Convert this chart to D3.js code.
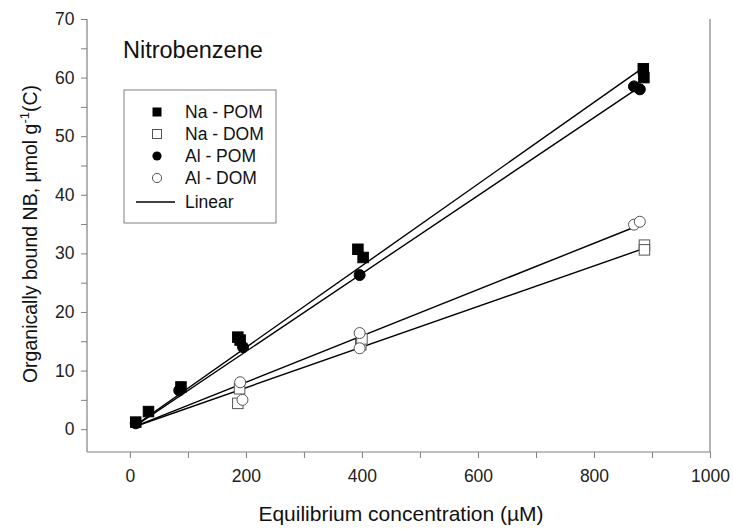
<!DOCTYPE html>
<html><head><meta charset="utf-8">
<script src="https://cdn.jsdelivr.net/npm/d3@7"></script>
<style>body{margin:0;background:#fff}</style>
</head><body>
<svg id="c" width="733" height="529"></svg>
<script>
const title = "Nitrobenzene";
const xTicks = [0,200,400,600,800,1000];
const yTicks = [0,10,20,30,40,50,60,70];
const naPOM = [[10,1.2],[32,3.0],[88,7.2],[186,15.7],[190,15.2],[393,30.7],[402,29.3],[885,61.5],[886,60.0]];
const naDOM = [[186,4.4],[189,6.9],[398,14.4],[400,15.4],[887,31.4],[887,30.6]];
const alPOM = [[10,1.0],[85,6.6],[195,14.0],[396,26.3],[869,58.5],[879,58.0]];
const alDOM = [[190,8.0],[194,5.0],[396,16.4],[396,13.8],[869,34.9],[879,35.4]];
const naPOMFit = [[10,0.7],[885,61.7]];
const alPOMFit = [[10,0.6],[877,58.3]];
const naDOMFit = [[10,0.5],[885,30.8]];
const alDOMFit = [[10,0.5],[878,34.8]];
const legendLabels = ["Na - POM","Na - DOM","Al - POM","Al - DOM","Linear"];

const svg = d3.select("#c");
const font = "Liberation Sans, Arial, sans-serif";
const x = d3.scaleLinear().domain([-74,1000]).range([87,710]);
const y = d3.scaleLinear().domain([-3.9,70]).range([452,19]);
const axisCol = "#808080";

// axes
const xa = svg.append("g").attr("transform","translate(0,452)")
  .call(d3.axisBottom(x).tickValues(d3.range(0,1001,100)).tickSize(6).tickFormat(d=>xTicks.includes(d)?d:""));
const ya = svg.append("g").attr("transform","translate(87,0)")
  .call(d3.axisLeft(y).tickValues(d3.range(0,71,5)).tickSize(6).tickFormat(d=>yTicks.includes(d)?d:""));
[xa,ya].forEach(g=>{
  g.select(".domain").attr("stroke",axisCol).attr("stroke-width",1.2);
  g.selectAll(".tick line").attr("stroke",axisCol);
  g.selectAll("text").attr("font-family",font).attr("font-size",17.5).attr("fill","#222");
});
xa.selectAll(".domain").attr("d",`M${x.range()[0]},0H${x.range()[1]}`);
ya.selectAll(".domain").attr("d",`M0,${y.range()[0]}V${y.range()[1]}`);
xa.selectAll("text").attr("dy","1.2em");
ya.selectAll("text").attr("dx","-0.2em");
svg.append("line").attr("x1",x(1000)).attr("x2",x(1000)).attr("y1",y.range()[0]).attr("y2",y.range()[1])
  .attr("stroke",axisCol).attr("stroke-width",1.2);

// titles
svg.append("text").attr("x",401).attr("y",521).attr("text-anchor","middle")
  .attr("font-family",font).attr("font-size",21).attr("fill","#111").text("Equilibrium concentration (µM)");
const yt = svg.append("text").attr("transform","translate(37,234) rotate(-90)").attr("text-anchor","middle")
  .attr("font-family",font).attr("font-size",19.5).attr("fill","#111");
yt.append("tspan").text("Organically bound NB, µmol g");
yt.append("tspan").attr("font-size",13).attr("dy",-8).text("-1");
yt.append("tspan").attr("dy",8).text("(C)");
svg.append("text").attr("x",123).attr("y",58).attr("font-family",font).attr("font-size",23.5).attr("fill","#111").text(title);

// fit lines
const line = d3.line().x(d=>x(d[0])).y(d=>y(d[1]));
[naPOMFit,alPOMFit,naDOMFit,alDOMFit].forEach(f=>{
  svg.append("path").attr("d",line(f)).attr("fill","none").attr("stroke","#000").attr("stroke-width",1.4);
});

// markers
function squares(data, filled, s){
  svg.append("g").selectAll("rect").data(data).join("rect")
    .attr("x",d=>x(d[0])-s/2).attr("y",d=>y(d[1])-s/2).attr("width",s).attr("height",s)
    .attr("fill",filled?"#000":"#fff").attr("stroke",filled?"#000":"#555").attr("stroke-width",1);
}
function circles(data, filled, r){
  svg.append("g").selectAll("circle").data(data).join("circle")
    .attr("cx",d=>x(d[0])).attr("cy",d=>y(d[1])).attr("r",r)
    .attr("fill",filled?"#000":"#fff").attr("stroke",filled?"#000":"#555").attr("stroke-width",1);
}
squares(naDOM,false,10.5);
circles(alDOM,false,5.5);
squares(naPOM,true,10.5);
circles(alPOM,true,5.5);

// legend
const lg = svg.append("g");
lg.append("rect").attr("x",124).attr("y",90).attr("width",152).attr("height",133)
  .attr("fill","#fff").attr("stroke",axisCol).attr("stroke-width",1);
const ly = [112,134,156,178,202];
const lfs = 17.5;
legendLabels.forEach((t,i)=>{
  lg.append("text").attr("x",185).attr("y",ly[i]+6).attr("font-family",font).attr("font-size",lfs).attr("fill","#111").text(t);
});
lg.append("rect").attr("x",152.5).attr("y",ly[0]-4.5).attr("width",9).attr("height",9).attr("fill","#000");
lg.append("rect").attr("x",152.5).attr("y",ly[1]-4.5).attr("width",9).attr("height",9).attr("fill","#fff").attr("stroke","#555");
lg.append("circle").attr("cx",157).attr("cy",ly[2]).attr("r",4.6).attr("fill","#000");
lg.append("circle").attr("cx",157).attr("cy",ly[3]).attr("r",4.6).attr("fill","#fff").attr("stroke","#555");
lg.append("line").attr("x1",136).attr("x2",175).attr("y1",ly[4]).attr("y2",ly[4]).attr("stroke","#000").attr("stroke-width",1.4);
</script>
</body></html>
